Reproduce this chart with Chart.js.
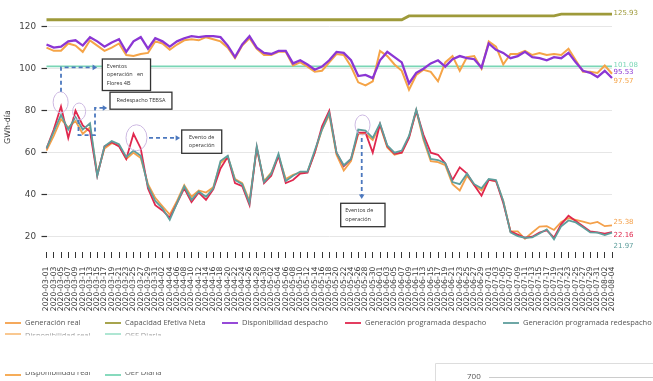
<!DOCTYPE html>
<html>
<head>
<meta charset="utf-8">
<title>Generación y disponibilidad diaria</title>
<script src="https://cdn.jsdelivr.net/npm/chart.js@4.4.1/dist/chart.umd.min.js"></script>
<style>
  html, body { margin: 0; padding: 0; background: #ffffff; }
  #wrap { width: 653px; height: 381px; position: relative; overflow: hidden; }
</style>
</head>
<body>
<div id="wrap"><canvas id="grafico" width="653" height="381"></canvas></div>
<script>
// Fechas (cada dos días)
const fechas = [
  '2020-03-01','2020-03-03','2020-03-05','2020-03-07','2020-03-09','2020-03-11','2020-03-13','2020-03-15',
  '2020-03-17','2020-03-19','2020-03-21','2020-03-23','2020-03-25','2020-03-27','2020-03-29','2020-03-31',
  '2020-04-02','2020-04-04','2020-04-06','2020-04-08','2020-04-10','2020-04-12','2020-04-14','2020-04-16',
  '2020-04-18','2020-04-20','2020-04-22','2020-04-24','2020-04-26','2020-04-28','2020-04-30',
  '2020-05-02','2020-05-04','2020-05-06','2020-05-08','2020-05-10','2020-05-12','2020-05-14','2020-05-16',
  '2020-05-18','2020-05-20','2020-05-22','2020-05-24','2020-05-26','2020-05-28','2020-05-30',
  '2020-06-01','2020-06-03','2020-06-05','2020-06-07','2020-06-09','2020-06-11','2020-06-13','2020-06-15',
  '2020-06-17','2020-06-19','2020-06-21','2020-06-23','2020-06-25','2020-06-27','2020-06-29',
  '2020-07-01','2020-07-03','2020-07-05','2020-07-07','2020-07-09','2020-07-11','2020-07-13','2020-07-15',
  '2020-07-17','2020-07-19','2020-07-21','2020-07-23','2020-07-25','2020-07-27','2020-07-29','2020-07-31',
  '2020-08-02','2020-08-04'
];

// Series en GWh-día
const generacionReal = [
  61,68,76,72,75,69,72,50,62,64.5,
  63.5,57,60,57.5,45,38.5,34.5,30.5,37,44.5,
  39,42,41,43.5,55,58,47.5,45.5,37,62,
  46.5,50.5,58.5,47.5,49.5,50.5,51,60,71,78,
  59,51.5,56,69,69,66,73,62.5,59,60,
  67.5,80,66,56,55.5,54,45,42,49,44.5,
  42,47,46.5,37,22.5,22.5,19,22,24.8,25,
  23.2,27,28.8,28,27.2,26.2,27,25,25.38
];
const capacidadEfectivaNeta = [
  123.3,123.3,123.3,123.3,123.3,123.3,123.3,123.3,123.3,123.3,
  123.3,123.3,123.3,123.3,123.3,123.3,123.3,123.3,123.3,123.3,
  123.3,123.3,123.3,123.3,123.3,123.3,123.3,123.3,123.3,123.3,
  123.3,123.3,123.3,123.3,123.3,123.3,123.3,123.3,123.3,123.3,
  123.3,123.3,123.3,123.3,123.3,123.3,123.3,123.3,123.3,123.3,
  125.1,125.1,125.1,125.1,125.1,125.1,125.1,125.1,125.1,125.1,
  125.1,125.1,125.1,125.1,125.1,125.1,125.1,125.1,125.1,125.1,
  125.1,125.93,125.93,125.93,125.93,125.93,125.93,125.93,125.93
];
const disponibilidadDespacho = [
  111.5,110,110.5,113,113.5,111,115,113,110.5,112.5,
  114,108,113,115,109.5,114.5,113,110.5,113,114.5,
  115.5,115,115.5,115.5,115,111,105.5,111.5,115.5,110,
  107.5,107,108.5,108.5,102.5,104,102,99.5,101,104,
  108,107.5,104,96.5,97,95.5,104,108,105.5,103,
  93,98,100,102.5,104,101,104.5,106,105,104.5,
  100.5,112,109,107.5,105,106,108,105.5,105,104,
  105.5,105,107.5,103,99,98,96,99,95.53
];
const generacionProgDespacho = [
  62,71,82,67,80,73,70,49,63,65,
  63,57,69,62,43,35,32.5,29,36,43,
  36.5,41,37.5,42.5,52.5,58,45.5,44,35,62.5,
  45.5,49,58.5,45.5,47,50,50.5,60,72.5,80,
  60,53.5,57,69.5,69.5,60,73.5,63,59.5,60,
  67,80,68.5,60,59,55,47,53,50,44.5,
  39.5,47,46.5,36,22.5,21,19.5,20,22,23,
  19.5,26,30,27.5,25,22.5,22,21.5,22.16
];
const generacionProgRedespacho = [
  62,70,78,71,77,71,74,49,63,65.5,
  64,58,61,58.5,44,37,33.5,28,36,44,
  37.5,41.5,39,43,56,58.5,47,45,36,63,
  46,50,59.5,46.5,49,51,51,61,71,79,
  60,54,57,71,70.5,67,74,63.5,60,61,
  68,80.5,67,57,56.5,55,46,45,50,45,
  43,47.5,47,37,22,20.3,19.5,19.7,21.5,23.5,
  18.7,25,27.7,26.8,24.5,22,21.9,20.8,21.97
];
const disponibilidadReal = [
  110,108.5,108.5,112,111,108,113.5,111,108.5,110,
  112,106.5,106,107,107.5,113,112,109,111.5,113.5,
  114,113.5,115,114,113,110,105,111,114.5,109.5,
  106.5,106.5,108,108,101.5,103,101,98.5,99,103,
  107,106.5,101,93.5,92,94,108.5,106,102,99,
  90,97,99.5,98.5,94,103,106,99,105.5,106,
  100,113,110.5,102,107,107,108.5,106.5,107.5,106.5,
  107,106.5,109.5,104,98.5,98.5,98,101.5,97.57
];
const oefDiaria = [
  101.08,101.08,101.08,101.08,101.08,101.08,101.08,101.08,101.08,101.08,
  101.08,101.08,101.08,101.08,101.08,101.08,101.08,101.08,101.08,101.08,
  101.08,101.08,101.08,101.08,101.08,101.08,101.08,101.08,101.08,101.08,
  101.08,101.08,101.08,101.08,101.08,101.08,101.08,101.08,101.08,101.08,
  101.08,101.08,101.08,101.08,101.08,101.08,101.08,101.08,101.08,101.08,
  101.08,101.08,101.08,101.08,101.08,101.08,101.08,101.08,101.08,101.08,
  101.08,101.08,101.08,101.08,101.08,101.08,101.08,101.08,101.08,101.08,
  101.08,101.08,101.08,101.08,101.08,101.08,101.08,101.08,101.08
];
const marcasY = [20, 40, 60, 80, 100, 120];

const colores = {
  genReal: '#F4A04A',
  capacidad: '#9E9A3A',
  dispDespacho: '#8B36D4',
  progDespacho: '#E0284E',
  progRedespacho: '#5E9E9C',
  dispReal: '#F5A447',
  oef: '#7AD6B6'
};

const FUENTE = '"DejaVu Sans", sans-serif';
const FUENTE_LEY = '"Open Sans", sans-serif';

function serie(label, data, color, ancho, orden) {
  return { label, data, borderColor: color, backgroundColor: color, borderWidth: ancho,
           pointRadius: 0, tension: 0, fill: false, order: orden };
}

const datasets = [
  serie('Generación real', generacionReal, colores.genReal, 1.8, 3),
  serie('Capacidad Efetiva Neta', capacidadEfectivaNeta, colores.capacidad, 2.8, 7),
  serie('Disponibilidad despacho', disponibilidadDespacho, colores.dispDespacho, 2.3, 4),
  serie('Generación programada despacho', generacionProgDespacho, colores.progDespacho, 1.8, 2),
  serie('Generación programada redespacho', generacionProgRedespacho, colores.progRedespacho, 1.8, 1),
  serie('Disponibilidad real', disponibilidadReal, colores.dispReal, 2.0, 5),
  serie('OEF Diaria', oefDiaria, colores.oef, 1.7, 6)
];

// Etiquetas del último valor de cada serie, a la derecha
const etiquetasFinales = [
  { ds: 1, dy: -1 },
  { ds: 6, dy: -1.5 },
  { ds: 2, dy: -5.5 },
  { ds: 5, dy: 7 },
  { ds: 0, dy: -2.7 },
  { ds: 3, dy: 3 },
  { ds: 4, dy: 13.5 }
];

const pluginEtiquetasFinales = {
  id: 'etiquetasFinales',
  afterDatasetsDraw(chart) {
    const ctx = chart.ctx;
    const area = chart.chartArea;
    ctx.save();
    ctx.font = '7px ' + FUENTE;
    ctx.textAlign = 'left';
    ctx.textBaseline = 'middle';
    etiquetasFinales.forEach(e => {
      const d = chart.data.datasets[e.ds];
      const meta = chart.getDatasetMeta(e.ds);
      const pt = meta.data[meta.data.length - 1];
      ctx.fillStyle = d.borderColor;
      ctx.fillText(d.data[d.data.length - 1].toFixed(2), area.right + 1.5, pt.y + e.dy);
    });
    ctx.restore();
  }
};

// Anotaciones: elipses, flechas discontinuas y cuadros de texto (coordenadas en índice/valor)
const notas = [
  { elipse: [1.95, 84, 7.5, 10.5],
    flecha: [[2.0, 89], [2.0, 100.6], [6.5, 100.6]], punta: 'der',
    caja: [7.7, 104.6, 14.35, 89.6],
    texto: ['Eventos', 'operación   en', 'Flores 4B'], alinear: 'left' },
  { elipse: [4.5, 79.6, 6.5, 8.5],
    flecha: [[4.41, 75.5], [4.41, 68.4], [6.69, 68.4], [6.69, 81.3], [7.9, 81.3]], punta: 'der',
    caja: [8.76, 88.8, 17.3, 80.7],
    texto: ['Redespacho TEBSA'], alinear: 'center' },
  { elipse: [12.41, 67.1, 10.5, 13],
    flecha: [[14.14, 67], [17.95, 67]], punta: 'der',
    caja: [18.65, 70.8, 24.17, 59.7],
    texto: ['Evento de', 'operación'], alinear: 'center' },
  { elipse: [43.59, 73.2, 7.5, 10],
    flecha: [[43.48, 67], [43.48, 39.6]], punta: 'abajo',
    caja: [40.58, 35.9, 46.69, 24.75],
    texto: ['Eventos de', 'operación'], alinear: 'left' }
];

const pluginNotas = {
  id: 'notas',
  afterDatasetsDraw(chart) {
    const ctx = chart.ctx;
    const xs = chart.scales.x, ys = chart.scales.y;
    const X = i => xs.getPixelForValue(i);
    const Y = v => ys.getPixelForValue(v);
    ctx.save();
    notas.forEach(n => {
      ctx.beginPath();
      ctx.strokeStyle = '#CDB9E2';
      ctx.lineWidth = 1;
      ctx.ellipse(X(n.elipse[0]), Y(n.elipse[1]), n.elipse[2], n.elipse[3], 0, 0, Math.PI * 2);
      ctx.stroke();
      ctx.beginPath();
      ctx.strokeStyle = '#4C78BE';
      ctx.lineWidth = 1.8;
      ctx.setLineDash([4, 3]);
      n.flecha.forEach((p, k) => {
        if (k === 0) ctx.moveTo(X(p[0]), Y(p[1])); else ctx.lineTo(X(p[0]), Y(p[1]));
      });
      ctx.stroke();
      ctx.setLineDash([]);
      const fin = n.flecha[n.flecha.length - 1];
      const fx = X(fin[0]), fy = Y(fin[1]);
      ctx.beginPath();
      ctx.fillStyle = '#4C78BE';
      if (n.punta === 'der') {
        ctx.moveTo(fx + 3.5, fy); ctx.lineTo(fx - 1, fy - 2.8); ctx.lineTo(fx - 1, fy + 2.8);
      } else {
        ctx.moveTo(fx, fy + 3.5); ctx.lineTo(fx - 2.8, fy - 1); ctx.lineTo(fx + 2.8, fy - 1);
      }
      ctx.closePath();
      ctx.fill();
      const x0 = X(n.caja[0]), y0 = Y(n.caja[1]), x1 = X(n.caja[2]), y1 = Y(n.caja[3]);
      ctx.fillStyle = '#ffffff';
      ctx.fillRect(x0, y0, x1 - x0, y1 - y0);
      ctx.strokeStyle = '#333333';
      ctx.lineWidth = 1.3;
      ctx.strokeRect(x0, y0, x1 - x0, y1 - y0);
      ctx.fillStyle = '#333333';
      ctx.font = '5.5px ' + FUENTE_LEY;
      ctx.textBaseline = 'middle';
      const alto = 8.5;
      const cy = (y0 + y1) / 2 - (n.texto.length - 1) * alto / 2;
      n.texto.forEach((t, k) => {
        if (n.alinear === 'center') {
          ctx.textAlign = 'center';
          ctx.fillText(t, (x0 + x1) / 2, cy + k * alto);
        } else {
          ctx.textAlign = 'left';
          ctx.fillText(t, x0 + 4.5, cy + k * alto);
        }
      });
    });
    ctx.restore();
  }
};

// Leyenda dibujada a mano (tres filas, las dos últimas recortadas)
const leyendaFila1 = [ [0, 5], [1, 105], [2, 222], [3, 345], [4, 503] ];
const leyendaFila2 = [ [5, 5], [6, 105] ];

const pluginLeyenda = {
  id: 'leyenda',
  afterDraw(chart) {
    const ctx = chart.ctx;
    const ds = chart.data.datasets;
    const item = (idx, x, yTexto, yLinea) => {
      ctx.beginPath();
      ctx.strokeStyle = ds[idx].borderColor;
      ctx.lineWidth = 1.8;
      ctx.moveTo(x, yLinea); ctx.lineTo(x + 16, yLinea);
      ctx.stroke();
      ctx.fillStyle = '#555555';
      ctx.fillText(ds[idx].label, x + 20, yTexto);
    };
    ctx.save();
    ctx.font = '7.5px ' + FUENTE_LEY;
    ctx.textAlign = 'left';
    ctx.textBaseline = 'middle';
    leyendaFila1.forEach(([i, x]) => item(i, x, 323, 323));
    ctx.save();
    ctx.beginPath(); ctx.rect(0, 329, 653, 6.5); ctx.clip();
    ctx.globalAlpha = 0.6;
    leyendaFila2.forEach(([i, x]) => item(i, x, 335.5, 334));
    ctx.restore();
    ctx.save();
    ctx.beginPath(); ctx.rect(0, 372, 653, 9); ctx.clip();
    leyendaFila2.forEach(([i, x]) => item(i, x, 372.5, 375));
    ctx.restore();
    ctx.strokeStyle = '#dddddd';
    ctx.lineWidth = 1;
    ctx.beginPath();
    ctx.moveTo(435.5, 381); ctx.lineTo(435.5, 363.5); ctx.lineTo(653, 363.5);
    ctx.stroke();
    ctx.beginPath();
    ctx.strokeStyle = '#cccccc';
    ctx.moveTo(489, 377.5); ctx.lineTo(653, 377.5);
    ctx.stroke();
    ctx.fillStyle = '#555555';
    ctx.font = '8px ' + FUENTE_LEY;
    ctx.fillText('700', 467, 376.5);
    ctx.restore();
  }
};

new Chart(document.getElementById('grafico'), {
  type: 'line',
  data: { labels: fechas, datasets },
  options: {
    responsive: false,
    animation: false,
    devicePixelRatio: 1,
    events: [],
    layout: { padding: { top: 2, right: 41, left: 0, bottom: 0 } },
    plugins: { legend: { display: false }, tooltip: { enabled: false } },
    scales: {
      x: {
        type: 'category',
        offset: false,
        grid: { drawOnChartArea: false, drawTicks: true, tickLength: 6, tickColor: '#333333', tickWidth: 1 },
        border: { display: false },
        ticks: { autoSkip: false, maxRotation: 90, minRotation: 90, padding: 8.5,
                 color: '#3a3a3a', font: { family: FUENTE, size: 7.7 } },
        afterFit(scale) {
          scale.height = 129;
          scale.paddingLeft = 0;
          scale.paddingRight = 0;
        }
      },
      y: {
        min: 12.7,
        max: 131.75,
        afterBuildTicks(axis) { axis.ticks = marcasY.map(v => ({ value: v })); },
        grid: { color: '#e6e6e6', lineWidth: 1, tickLength: 5, tickColor: '#333333', tickWidth: 1.2 },
        border: { display: false },
        ticks: { padding: 5.5, color: '#444444', font: { family: FUENTE, size: 8.8 } },
        title: { display: true, text: 'GWh-día', color: '#333333',
                 font: { family: FUENTE, size: 7.9 }, padding: { top: 3, bottom: 0 } },
        afterFit(scale) {
          scale.width = 46.5;
          scale.paddingTop = 0;
          scale.paddingBottom = 0;
        }
      }
    }
  },
  plugins: [pluginEtiquetasFinales, pluginNotas, pluginLeyenda]
});
</script>
</body>
</html>
